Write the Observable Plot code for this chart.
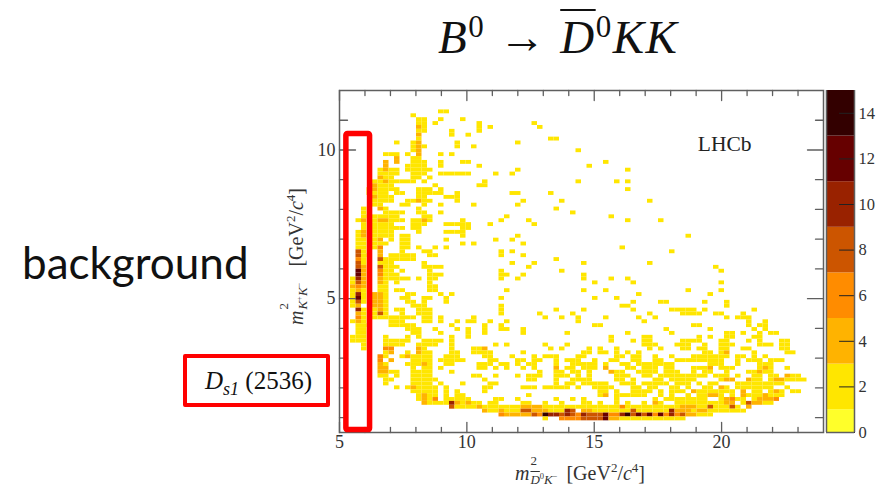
<!DOCTYPE html>
<html>
<head>
<meta charset="utf-8">
<script src="https://cdn.jsdelivr.net/npm/d3@7"></script>
<script src="https://cdn.jsdelivr.net/npm/@observablehq/plot@0.6"></script>
<style>
html,body{margin:0;padding:0;background:#fff;overflow:hidden}
#page{position:relative;width:884px;height:498px;overflow:hidden}
#page>svg,#page>figure{position:absolute;left:0;top:0;margin:0}
.t{position:absolute;white-space:nowrap;color:#111}
.math{font-family:"Liberation Serif",serif;font-style:italic}
.up{font-style:normal}
.axis{font-family:"Liberation Serif",serif;font-size:20px;color:#333}
.stack{display:inline-block;position:relative;width:32px;height:1em;vertical-align:baseline}
.stack b,.stack i{position:absolute;left:1px;font-weight:normal;line-height:1}
.stack b{top:-6px;font-style:normal;font-size:13px}
.stack i{top:13px;white-space:nowrap;font-size:13px;font-family:"Liberation Serif",serif}
.stack u{text-decoration:overline}
.stack sup{font-size:8.5px;font-style:normal;line-height:0}
.pw{font-size:13px;line-height:0}
</style>
</head>
<body>
<div id="page"></div>
<script>
const xRange = [5, 24];
const yRange = [0.5, 12];
const binCount = 88;
const xMajor = [5, 10, 15, 20];
const xMinor = [6, 7, 8, 9, 11, 12, 13, 14, 16, 17, 18, 19, 21, 22, 23];
const yMajor = [5, 10];
const yMinor = [1, 2, 3, 4, 6, 7, 8, 9, 11];
const barTicks = [0, 2, 4, 6, 8, 10, 12, 14];
const bandEdges = [0, 1, 3, 5, 7, 9, 11, 13, 15];
const bandColors = ["#ffff2a", "#ffe600", "#ffb300", "#ff8c00", "#cc5500", "#992200", "#660000", "#330000"];

// Occupied bins: first number = bin row (from the top), the rest = bin columns
const occupied = [
[5,18,19],[6,13],[7,14,15,18,22],[8,14,15,17,25,35],[9,14,15,25,27,36],[10,14,15,20,25],[11,14,20,23],[12,14,38,39],
[13,10,13,14,21,32],[14,13,14,15,21,24],[15,13,14,43],[16,8,9,10,12,14,18,20],[17,10,13,14],[18,8,10,13,14,15,18,22,23,48],
[19,8,12,13,14,15,18,25,45],[20,7,8,9,10,12,13,14,15,16,32,52],[21,7,8,9,10,13,14,15,18,19,20,21,22,23,28,31],
[22,7,8,9,13,14,16],[23,6,7,8,9,10,11,12,13,15,26,43,50,52],[24,6,7,8,9,17,25,26],[25,5,6,7,8,9,10,14,15,16,18,52],
[26,5,6,7,8,10,11,14,15,16,17,18,21,31,32,38],[27,6,7,8,9,14,15,19,20,21],[28,6,7,8,9,12,13,14,15,16,21,33,40,56],
[29,6,7,11,12,15,18,24,32],[30,4,7,8,14,39],[31,4,8,9,10,11,14,15,18,42],[32,4,5,6,7,8,9,10,15,16,30,49],
[33,3,4,6,7,8,9,10,11,13,14,15,16,22,29,34,52,58],[34,4,6,7,8,9,13,14,15,19,20,21,22,23,27,35],[35,4,6,7,8,9,10,11,13,14,22,23],
[36,3,4,6,7,8,9,14,19,20,21,22],[37,3,4,6,7,8,9,11,12,22,32,63],[38,3,4,6,7,9,11,12,19,28,31],[39,3,4,6,7,8,11,12,22,24,33],
[40,3,4,6,7,11,12,14,17,19,51],[41,3,4,7,11,15,16,29,31,60],[42,3,4,5,7,9,10,11,12,13,16,17,29,33],[43,3,4,7,8,9,10,11,12,13,39],
[44,3,4,7,8,9,15,31,35,44,56],[45,3,4,7,8,9,10,15,16,17,18,34,68],[46,3,4,7,8,9,11,16,29,40,69],[47,3,4,7,8,9,10,16,17,18,29,30,33,44],
[48,2,3,4,7,8,9,10,11,12,14,16,17,29,32,44,49,52],[49,2,3,4,7,8,10,16,46,53,69],[50,2,3,4,7,8,16,17],[51,2,3,4,7,8,10,11,16,17,30,44,48,63,69],
[52,2,3,4,6,7,8,12,13,18,20,54,67],[53,2,3,4,6,7,8,11,12,15,16,19,29,46,50],[54,2,3,4,6,7,8,12,13,15,19,53,58,59,66,70],
[55,2,3,6,7,8,13,14,15,29,51,52,70],[56,3,4,6,7,8,10,11,14,15,16,29,39,44,53,60,61,62,63,64,66,75],
[57,3,4,6,7,8,11,14,15,16,29,36,42,56,62,63,64,65,68,69,73],[58,3,4,6,7,8,9,10,11,12,13,15,16,18,24,37,40,43,48,54,57,70,72,73,74],
[59,2,3,4,9,10,11,15,16,18,21,23,24,27,30,43,55,74,77],[60,3,4,5,9,10,11,12,13,20,26,29,46,47,64,65,74,76,77],
[61,3,4,12,13,14,17,21,23,26,29,30,33,59,67,75,77],[62,3,4,13,14,18,23,26,33,41,52,60,70,71,73,76,78,79],
[63,2,3,4,8,12,14,20,23,49,55,56,65,67,70,71,75,76],[64,2,3,4,8,9,10,11,12,15,16,17,18,20,49,53,55,56,62,63,64,65,69,70,74,76,80,81],
[65,4,8,9,10,11,14,15,16,17,20,28,30,37,41,55,56,57,61,62,63,66,69,70,71,76,77,78,80,81],
[66,4,8,9,14,15,20,24,25,26,38,40,45,47,50,56,58,62,63,65,66,69,70,73,74,80,81],
[67,8,9,12,14,15,16,20,21,24,25,26,27,33,44,45,47,48,50,52,54,66,67,69,70,75,81,82],
[68,7,8,11,12,13,14,15,16,19,20,21,26,27,31,35,37,38,39,43,44,50,51,53,54,57,60,64,65,66,67,68,69,70,72,73,75,77],
[69,7,9,13,14,15,16,18,19,20,21,22,27,28,32,33,35,36,39,41,42,43,46,49,50,53,54,57,58,61,62,63,64,65,66,67,68,69,72,74,75,76,78,79,80],
[70,7,8,12,13,14,15,16,19,20,25,26,27,29,30,32,34,35,39,42,43,44,45,46,48,51,52,54,55,56,57,58,59,60,67,68,69,72,76,77,78],
[71,7,8,13,15,16,18,25,26,28,30,33,35,39,41,42,44,45,46,48,52,53,55,56,57,59,60,64,65,66,67,69,70,71,76,77,78,81],
[72,7,8,9,10,13,14,15,16,20,36,39,40,42,43,45,49,50,51,54,55,56,57,59,60,61,64,66,67,70,74,75,76,77,78],
[73,7,8,10,13,14,15,16,24,25,28,32,34,35,36,39,40,41,43,45,50,51,52,55,56,58,59,60,61,62,63,64,65,66,68,69,70,72,75,76,78,79,81,82,83],
[74,8,9,13,14,15,16,17,26,34,35,39,42,43,44,45,50,51,53,57,58,60,61,62,63,64,69,70,71,74,75,76,78,79,80,81,82,83,84],
[75,8,13,14,15,16,18,22,27,28,39,41,42,44,45,46,47,48,51,52,53,55,56,57,58,59,61,62,63,65,67,68,72,73,74,75,76,77,78,79,80],
[76,10,12,13,14,15,16,17,19,26,27,33,34,35,37,38,39,40,41,43,46,47,48,49,53,54,56,57,60,61,63,66,67,69,70,72,73,74,75,76,77,78,81],
[77,13,14,15,16,17,19,21,26,47,48,50,53,54,55,56,58,60,61,62,64,65,66,67,68,69,70,71,73,75,76,78,79,80,82,83],
[78,14,15,16,17,19,21,22,34,47,48,50,51,52,53,54,55,58,60,63,65,66,67,68,69,71,73,74,75,76,77,78,79,80],
[79,14,15,16,17,19,20,21,22,23,28,29,32,39,42,44,50,57,59,60,61,62,63,64,65,66,69,70,71,72,73,75,76,77,78,79],
[80,15,16,17,18,19,20,21,22,23,24,25,27,28,33,34,37,40,44,45,47,50,52,55,57,58,61,62,63,64,65,66,67,68,69,70,71,73,74,75,76,77,78],
[81,20,21,22,23,24,25,26,27,28,29,30,31,32,33,34,35,36,37,38,39,40,41,42,43,44,45,46,47,48,49,50,51,52,53,54,55,56,57,58,59,60,61,62,63,64,65,66,67,68,69,70,71,72,74],
[82,26,27,28,29,30,31,32,33,34,35,36,37,38,39,40,41,42,44,45,46,47,48,49,50,51,52,53,54,55,56,57,58,59,60,61,62,63,64,65,66,67,68,69,70,71,72,73],
[83,29,30,31,32,33,34,35,36,37,38,39,40,41,42,43,44,45,46,47,48,49,50,51,52,53,54,55,56,57,58,59,60,61,62,63,64,65,66,67],
[84,37,40,41,42,43,44,45,46,47,48,49,50,51,52,53,54,55,56,57,58,59,60,61,62]
];

// Higher-count bins: [row, column]
const count4 = [[9,14],[11,14],[13,14],[14,14],[15,14],[16,14],[17,10],[18,10],[18,8],[19,8],[20,8],[22,7],[23,8],[24,6],[25,6],[27,6],[28,14],[30,7],[33,4],[33,7],[33,8],[33,15],[36,4],[37,4],[38,7],[41,7],[42,7],[45,4],[46,4],[47,4],[48,4],[49,4],[50,4],[50,2],[51,3],[55,3],[57,3],[59,3],[48,7],[49,7],[52,6],[52,7],[53,6],[53,7],[54,6],[54,7],[55,6],[55,7],[56,7],[70,7],[71,7],[71,8],[72,7],[72,8],[67,9],[69,9],[67,14],[66,14],[68,12],[70,15],[76,13],[78,15],[79,15],[80,15],[80,21],[80,23],[81,25],[66,26],[82,26],[82,29],[71,39],[71,48],[72,49],[78,48],[80,57],[81,33],[81,34],[81,35],[81,36],[81,62],[81,63],[67,70],[71,67],[71,77],[72,76],[73,81],[74,70],[74,71],[74,74],[74,79],[74,80],[76,69],[77,64],[77,73],[77,79],[78,67],[78,68],[78,73],[78,77],[79,70],[79,76],[79,77],[79,78],[80,70],[80,71],[80,75],[80,76],[81,64],[81,74],[82,62],[82,63],[82,65],[82,66],[82,35],[82,36],[82,37],[82,44],[82,45],[82,61],[83,30],[83,31],[83,32],[83,33],[83,34],[83,63],[83,64],[84,49],[84,50]];
const count6 = [[43,3],[50,3],[58,3],[40,7],[46,7],[47,7],[68,7],[69,7],[66,8],[66,9],[79,17],[83,29],[81,51],[79,71],[79,79],[83,36],[83,43],[83,49],[83,50],[83,57],[83,59],[83,61],[84,40],[84,41],[84,42],[84,43]];
const count8 = [[41,3],[42,3],[44,3],[45,3],[49,3],[54,3],[43,7],[45,7],[57,7],[81,20],[82,33],[82,34],[82,42],[82,53],[80,74],[81,67],[81,71],[83,62],[83,35],[83,40],[83,42],[83,45],[83,46],[83,47],[83,53],[83,55],[84,44],[84,45],[84,46],[84,47]];
const count10 = [[48,3],[52,3],[56,3],[80,20],[82,41],[82,60],[83,38],[83,39],[83,41],[83,44],[83,51],[83,60]];
const count12 = [[46,3],[47,3],[53,3],[83,48],[83,54],[83,56],[83,58],[84,48]];
const count14 = [[83,37],[83,52]];

const counts = new Map();
for (const [row, ...cols] of occupied) for (const col of cols) counts.set(row + "," + col, 2);
for (const [list, value] of [[count4, 4], [count6, 6], [count8, 8], [count10, 10], [count12, 12], [count14, 14]]) {
  for (const [row, col] of list) counts.set(row + "," + col, value);
}
const binW = (xRange[1] - xRange[0]) / binCount;
const binH = (yRange[1] - yRange[0]) / binCount;
const cells = Array.from(counts, ([key, count]) => {
  const [row, col] = key.split(",").map(Number);
  return {x1: xRange[0] + col * binW, x2: xRange[0] + (col + 1) * binW, y1: yRange[1] - (row + 1) * binH, y2: yRange[1] - row * binH, count};
});

const colorScale = {type: "threshold", domain: bandEdges.slice(1, -1), range: bandColors};
const tickShape = {draw(c, l) { c.moveTo(0, 0); c.lineTo(0, -l); }};
const frameColor = "#5f5f5f";
const serif = "Liberation Serif";
const ticks = (data, axis, anchor, len, rotate) => Plot.vector(data, {
  [axis]: d => d, frameAnchor: anchor, anchor: "start", length: len, rotate, shape: tickShape,
  stroke: frameColor, strokeWidth: 1.3
});

const main = Plot.plot({
  width: 884, height: 498,
  marginLeft: 339, marginRight: 61, marginTop: 90, marginBottom: 66,
  x: {domain: xRange, label: null, axis: null},
  y: {domain: yRange, label: null, axis: null},
  color: colorScale,
  style: {background: "transparent"},
  marks: [
    Plot.rect(cells, {x1: "x1", x2: "x2", y1: "y1", y2: "y2", fill: "count"}),
    ticks(xMajor, "x", "bottom", 10, 0), ticks(xMinor, "x", "bottom", 5, 0),
    ticks(xMajor, "x", "top", 10, 180), ticks(xMinor, "x", "top", 5, 180),
    ticks(yMajor, "y", "left", 16, 90), ticks(yMinor, "y", "left", 8, 90),
    ticks(yMajor, "y", "right", 16, 270), ticks(yMinor, "y", "right", 8, 270),
    Plot.frame({stroke: frameColor, strokeWidth: 1.5}),
    Plot.axisX({ticks: xMajor, anchor: "bottom", tickSize: 0, tickPadding: 3, label: null, fontSize: 18, fontFamily: serif, color: "#333"}),
    Plot.axisY({ticks: yMajor, anchor: "left", tickSize: 0, tickPadding: 4, label: null, fontSize: 18, fontFamily: serif, color: "#333"}),
    Plot.text(["LHCb"], {x: [20.12], y: [10.2], text: d => d, fontSize: 21.5, fontFamily: serif, fill: "#222"}),
    Plot.rect([0], {x1: [5.27], x2: [6.2], y1: [0.58], y2: [10.54], fill: "none", stroke: "#ff0000", strokeWidth: 5.5, rx: 1.5})
  ]
});

const bands = bandColors.map((_, i) => ({lo: bandEdges[i], hi: bandEdges[i + 1], mid: (bandEdges[i] + bandEdges[i + 1]) / 2}));
const bar = Plot.plot({
  width: 884, height: 498,
  marginLeft: 826, marginRight: 30, marginTop: 90, marginBottom: 66,
  x: {domain: [0, 1], axis: null},
  y: {domain: [0, 15], axis: null},
  color: colorScale,
  style: {background: "transparent"},
  marks: [
    Plot.rect(bands, {y1: "lo", y2: "hi", fill: "mid"}),
    Plot.vector(barTicks, {y: d => d, frameAnchor: "right", anchor: "start", length: 15, rotate: 270, shape: tickShape, stroke: "#222", strokeWidth: 1}),
    Plot.ruleX([0, 1], {stroke: frameColor, strokeWidth: 1.5}),
    Plot.ruleY([0], {stroke: frameColor, strokeWidth: 1.5}),
    Plot.axisY({ticks: barTicks, anchor: "right", tickSize: 0, tickPadding: 4, label: null, fontSize: 16.5, fontFamily: serif, color: "#333"})
  ]
});

const page = document.getElementById("page");
page.append(main, bar);
function add(html, cls, css) {
  const el = document.createElement("div");
  el.className = "t " + cls;
  el.innerHTML = html;
  Object.assign(el.style, css);
  page.append(el);
  return el;
}
const sup0 = '<sup style="font-style:normal;font-size:31px;vertical-align:16px;line-height:0">0</sup>';
add('B' + sup0 + ' <span class="up">→</span> <span style="text-decoration:overline;text-decoration-thickness:2px">D</span>' + sup0 + 'KK', "math", {left: "438px", top: "9px", fontSize: "47px", lineHeight: "56px", letterSpacing: "1.5px"});
add("background", "", {left: "22px", top: "236px", fontSize: "44px", lineHeight: "52px", fontFamily: "Lato, sans-serif"});
add("", "", {left: "183px", top: "354px", width: "139px", height: "44.5px", border: "4px solid #ff0000", borderRadius: "2px", boxSizing: "content-box"});
add('D<sub style="font-size:18px;line-height:0;vertical-align:-6px">s1</sub> <span class="up">(2536)</span>', "math", {left: "205px", top: "367px", fontSize: "25px", lineHeight: "28px"});
add('<span class="math">m</span><span class="stack"><b>2</b><i><u>D</u><sup>0</sup>K<sup>−</sup></i></span> [GeV<sup class="pw">2</sup>/<span class="math">c</span><sup class="pw">4</sup>]', "axis", {left: "515px", top: "460px"});
add('<span class="math">m</span><span class="stack" style="width:39px"><b>2</b><i>K<sup>+</sup>K<sup>−</sup></i></span> [GeV<sup class="pw">2</sup>/<span class="math">c</span><sup class="pw">4</sup>]', "axis", {left: "283px", top: "325px", transformOrigin: "0 0", transform: "rotate(-90deg)"});
</script>
</body>
</html>
